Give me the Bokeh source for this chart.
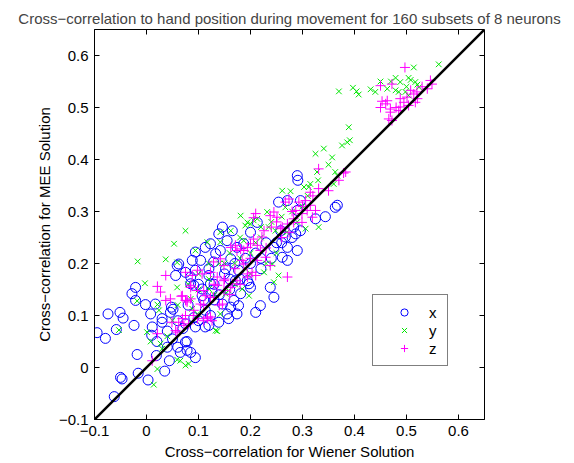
import math
from bokeh.plotting import figure
from bokeh.models import Range1d, FixedTicker
from bokeh.embed import file_html
from bokeh.resources import INLINE

# ---- data ----
x_wiener = [-0.021, -0.028, -0.021, -0.002, 0.017, 0.048, 0.046, 0.051, -0.074, -0.051, -0.045, 0.008,
            -0.024, -0.058, -0.095, -0.079, 0.030, 0.011, 0.010, 0.040, 0.078, 0.060, 0.065, 0.085,
            0.094, -0.018, 0.019, 0.044, -0.016, 0.035, -0.050, -0.047, 0.003, -0.062,
            0.254, 0.146, 0.165, 0.139, 0.155, 0.200, 0.187, 0.174, 0.113, 0.133, 0.142, 0.094,
            0.088, 0.104, 0.059, 0.075, 0.094, 0.129, 0.162, 0.152, 0.120, 0.085, 0.091, 0.107,
            0.123, 0.177, 0.171, 0.194, 0.200, 0.181, 0.168, 0.177, 0.146, 0.158, 0.113, 0.123,
            0.120, 0.075, 0.094, 0.210, 0.219, 0.245, 0.238, 0.271, 0.290, 0.261, 0.283, 0.267,
            0.290, 0.290, 0.291, 0.271, 0.296, 0.363, 0.367, 0.344, 0.325, 0.287, 0.296, 0.245,
            0.258, 0.271, 0.162, 0.139, 0.113, 0.091, 0.075, 0.078, 0.123, 0.062, 0.056, 0.085,
            0.213, 0.197, 0.174, 0.155, 0.126, 0.107, 0.030, 0.050, 0.070, 0.100, 0.130, 0.160,
            0.200, 0.220, 0.250,
            0.130, 0.150, 0.170, 0.190, 0.210, 0.230, 0.110, 0.140, 0.160, 0.180, 0.220, 0.240,
            0.260, 0.280, 0.080, 0.100, 0.120, 0.060, 0.040, 0.020]
x_mee = [0.154, 0.142, 0.129, 0.121, 0.122, 0.116, 0.106, 0.112, 0.103, 0.106, 0.095, 0.103,
         0.081, 0.073, 0.067, 0.056, 0.087, 0.078, 0.062, 0.039, 0.050, 0.039, 0.029, 0.029,
         0.019, 0.025, 0.023, 0.013, -0.011, -0.007, -0.019, -0.022, -0.024, -0.056,
         0.318, 0.270, 0.263, 0.257, 0.244, 0.260, 0.238, 0.231, 0.231, 0.219, 0.225, 0.222,
         0.206, 0.206, 0.196, 0.183, 0.187, 0.203, 0.209, 0.190, 0.177, 0.174, 0.158, 0.151,
         0.161, 0.187, 0.167, 0.167, 0.154, 0.142, 0.129, 0.119, 0.122, 0.094, 0.110, 0.100,
         0.081, 0.084, 0.078, 0.106, 0.119, 0.135, 0.154, 0.231, 0.225, 0.212, 0.270, 0.251,
         0.302, 0.369, 0.360, 0.321, 0.321, 0.308, 0.312, 0.290, 0.286, 0.257, 0.263, 0.231,
         0.263, 0.206, 0.116, 0.087, 0.078, 0.096, 0.049, 0.033, 0.238, 0.199, 0.177, 0.161,
         0.279, 0.161, 0.103, 0.103, 0.148, 0.138, 0.094, 0.055, 0.075, 0.090, 0.130, 0.150,
         0.200, 0.210, 0.240,
         0.160, 0.180, 0.200, 0.210, 0.220, 0.240, 0.130, 0.140, 0.170, 0.170, 0.190, 0.210,
         0.240, 0.250, 0.120, 0.160, 0.190, 0.090, 0.070, 0.050]

y_wiener = [-0.003, 0.059, -0.018, 0.021, 0.024, -0.053, 0.001, 0.008, 0.027, 0.030, 0.059, 0.065,
            0.021, 0.075, 0.081, 0.014, 0.133, -0.017,
            0.075, 0.053, 0.037, 0.181, 0.190, 0.200, 0.142, 0.162, 0.117, 0.094, 0.197, 0.098, 0.142,
            0.059, 0.142, 0.194, 0.213, 0.232, 0.267, 0.254, 0.245, 0.085, 0.088, 0.120, 0.152,
            0.325, 0.341, 0.357, 0.376, 0.386, 0.363, 0.328, 0.315, 0.312, 0.261, 0.277, 0.206,
            0.306, 0.331, 0.367, 0.360, 0.303, 0.235, 0.248, 0.242, 0.187,
            0.136, 0.158, 0.184, 0.226,
            0.370, 0.397, 0.404, 0.408, 0.431, 0.514, 0.562, 0.479, 0.488, 0.504, 0.508, 0.517,
            0.521, 0.524, 0.479, 0.485, 0.463, 0.498, 0.504, 0.389, 0.391,
            0.120, 0.100, 0.150, 0.200, 0.220, 0.130, 0.170, 0.200, 0.180, 0.050, 0.040,
            0.220, 0.240, 0.260, 0.280, 0.300, 0.270, 0.290, 0.250, 0.230, 0.210, 0.160, 0.140,
            0.120, 0.100, 0.080, 0.060, 0.180, 0.170, 0.190, 0.310, 0.330, 0.350, 0.440, 0.470,
            0.500, 0.450]
y_mee = [0.162, 0.154, 0.128, 0.121, 0.110, 0.072, 0.068, 0.050, 0.046, 0.036, 0.015, 0.013,
         -0.003, 0.004, 0.007, -0.033, 0.071, 0.204,
         0.263, 0.238, 0.208, 0.292, 0.273, 0.276, 0.260, 0.263, 0.241, 0.225, 0.138, 0.103, 0.103,
         0.202, 0.241, 0.279, 0.286, 0.299, 0.308, 0.177, 0.164, 0.132, 0.113, 0.151, 0.142,
         0.411, 0.421, 0.404, 0.427, 0.433, 0.376, 0.376, 0.353, 0.347, 0.340, 0.339, 0.283,
         0.267, 0.270, 0.369, 0.353, 0.347, 0.270, 0.263, 0.199, 0.244,
         0.070, 0.148, 0.151, 0.183,
         0.531, 0.538, 0.531, 0.525, 0.535, 0.577, 0.583, 0.557, 0.549, 0.557, 0.553, 0.549,
         0.544, 0.539, 0.533, 0.530, 0.536, 0.530, 0.523, 0.462, 0.437,
         0.170, 0.180, 0.200, 0.220, 0.250, 0.140, 0.200, 0.180, 0.210, 0.090, 0.060,
         0.270, 0.280, 0.290, 0.300, 0.310, 0.260, 0.280, 0.220, 0.200, 0.240, 0.220, 0.200,
         0.200, 0.150, 0.160, 0.120, 0.250, 0.160, 0.190, 0.330, 0.360, 0.390, 0.530, 0.550,
         0.540, 0.550]

z_wiener = [0.021, 0.027, 0.037, 0.046, 0.067, 0.078, 0.085, 0.049, 0.062, 0.069, 0.021, 0.011,
            0.091, 0.104, 0.113, 0.110, 0.085, 0.117, 0.126, 0.110, 0.056, 0.059,
            0.210, 0.162, 0.174, 0.129, 0.142, 0.149, 0.123, 0.136, 0.149, 0.098, 0.107, 0.075,
            0.088, 0.037, 0.069, 0.075, 0.098, 0.123, 0.136, 0.149, 0.162, 0.174, 0.194, 0.203,
            0.187, 0.098, 0.123,
            0.331, 0.383, 0.315, 0.331, 0.274, 0.267, 0.293, 0.306, 0.315, 0.287, 0.299, 0.309,
            0.245, 0.251, 0.238, 0.283, 0.271, 0.206, 0.261, 0.226, 0.222, 0.271, 0.200, 0.213,
            0.171, 0.181,
            0.497, 0.450, 0.472, 0.453, 0.463, 0.460, 0.469, 0.469, 0.466, 0.472, 0.488, 0.495,
            0.501, 0.508, 0.514, 0.521, 0.517, 0.488, 0.485, 0.504, 0.540, 0.549, 0.546, 0.379,
            0.210, 0.194, 0.078, 0.085, 0.146, 0.117, 0.075, 0.081, 0.072, 0.129, 0.165,
            0.325, 0.319, 0.283, 0.299, 0.206, 0.194, 0.187, 0.184, 0.219, 0.229, 0.213, 0.238,
            0.258, 0.274,
            0.240, 0.250, 0.280, 0.300, 0.320, 0.260, 0.230, 0.200, 0.170, 0.150, 0.130, 0.110,
            0.090, 0.140, 0.160, 0.180, 0.350, 0.370, 0.520, 0.530, 0.480, 0.450]
z_mee = [0.156, 0.145, 0.129, 0.132, 0.137, 0.126, 0.132, 0.087, 0.087, 0.094, 0.065, 0.013,
         0.110, 0.122, 0.138, 0.148, 0.154, 0.097, 0.090, 0.090, 0.071, 0.068,
         0.296, 0.231, 0.225, 0.203, 0.209, 0.196, 0.183, 0.174, 0.167, 0.187, 0.180, 0.183,
         0.177, 0.177, 0.138, 0.129, 0.148, 0.135, 0.158, 0.148, 0.154, 0.167, 0.174, 0.183,
         0.199, 0.094, 0.097,
         0.382, 0.376, 0.337, 0.344, 0.324, 0.318, 0.318, 0.321, 0.312, 0.302, 0.296, 0.302,
         0.299, 0.289, 0.292, 0.279, 0.276, 0.288, 0.270, 0.263, 0.251, 0.174, 0.238, 0.235,
         0.235, 0.228,
         0.577, 0.542, 0.545, 0.512, 0.513, 0.507, 0.497, 0.491, 0.478, 0.475, 0.517, 0.510,
         0.520, 0.533, 0.526, 0.517, 0.510, 0.501, 0.494, 0.504, 0.536, 0.545, 0.552, 0.374,
         0.177, 0.180, 0.129, 0.158, 0.122, 0.094, 0.100, 0.084, 0.081, 0.135, 0.161,
         0.302, 0.289, 0.286, 0.279, 0.247, 0.231, 0.225, 0.206, 0.225, 0.212, 0.206, 0.196,
         0.267, 0.260,
         0.270, 0.280, 0.300, 0.310, 0.330, 0.250, 0.230, 0.210, 0.190, 0.170, 0.160, 0.120,
         0.100, 0.120, 0.140, 0.160, 0.340, 0.360, 0.530, 0.540, 0.500, 0.500]

axis_min, axis_max = -0.1, 0.65
diag_x = [axis_min, axis_max]
diag_y = [axis_min, axis_max]

tick_values = [-0.1, 0.0, 0.1, 0.2, 0.3, 0.4, 0.5, 0.6]
tick_labels = ["\u22120.1", "0", "0.1", "0.2", "0.3", "0.4", "0.5", "0.6"]

series_names = ["x", "y", "z"]

TITLE = "Cross\u2212correlation to hand position during movement for 160 subsets of 8 neurons"
XLABEL = "Cross\u2212correlation for Wiener Solution"
YLABEL = "Cross\u2212correlation for MEE Solution"

FONT = "Liberation Sans"
FS = "15px"

p = figure(frame_width=390, frame_height=390,
           x_range=Range1d(axis_min, axis_max), y_range=Range1d(axis_min, axis_max),
           output_backend="svg", toolbar_location=None,
           min_border_left=94, min_border_right=88, min_border_top=29, min_border_bottom=44,
           title=TITLE)

p.title.text_font = FONT
p.title.text_font_size = "15px"
p.title.text_font_style = "normal"
p.title.align = "center"
p.title.standoff = 6
p.title.offset = 0

p.grid.visible = False
p.outline_line_color = "black"
p.outline_line_width = 1
p.background_fill_color = "white"
p.border_fill_color = "white"

overrides = dict(zip(tick_values, tick_labels))

for ax in (p.xaxis[0], p.yaxis[0]):
    ax.ticker = FixedTicker(ticks=tick_values)
    ax.major_label_overrides = overrides
    ax.major_tick_in = 5
    ax.major_tick_out = 0
    ax.minor_tick_line_color = None
    ax.axis_line_color = "black"
    ax.major_tick_line_color = "black"
    ax.major_label_text_font = FONT
    ax.major_label_text_font_size = FS
    ax.major_label_text_color = "black"
    ax.axis_label_text_font = FONT
    ax.axis_label_text_font_size = FS
    ax.axis_label_text_font_style = "normal"
    ax.axis_label_text_color = "black"

p.xaxis[0].axis_label = XLABEL
p.yaxis[0].axis_label = YLABEL
p.xaxis[0].major_label_standoff = 6
p.xaxis[0].axis_label_standoff = 4
p.yaxis[0].major_label_standoff = 6
p.yaxis[0].axis_label_standoff = 3

# inner ticks on the top and right edges of the box (half of each dash is clipped by the frame)
n = len(tick_values)
p.scatter(tick_values, [axis_max] * n, marker="dash", angle=math.pi / 2, size=10,
          line_color="black", line_width=1)
p.scatter([axis_max] * n, tick_values, marker="dash", size=10,
          line_color="black", line_width=1)

r1 = p.scatter(x_wiener, x_mee, marker="circle", size=10, fill_color=None,
               line_color="#0000ff", line_width=1, legend_label=series_names[0])
r2 = p.scatter(y_wiener, y_mee, marker="x", size=8, line_color="#00e600",
               line_width=1, legend_label=series_names[1])
r3 = p.scatter(z_wiener, z_mee, marker="cross", size=10, line_color="#ff00ff",
               line_width=1, legend_label=series_names[2])

p.line(diag_x, diag_y, line_color="black", line_width=2.5)

lg = p.legend[0]
lg.location = (278, 53)
lg.border_line_color = "black"
lg.border_line_width = 1
lg.background_fill_color = "white"
lg.background_fill_alpha = 1
lg.padding = 8
lg.margin = 0
lg.spacing = 0
lg.glyph_width = 46
lg.glyph_height = 18
lg.label_height = 18
lg.label_width = 10
lg.label_standoff = 2
lg.label_text_font = FONT
lg.label_text_font_size = FS
lg.label_text_color = "black"

open("out.html", "w").write(file_html(p, INLINE))
